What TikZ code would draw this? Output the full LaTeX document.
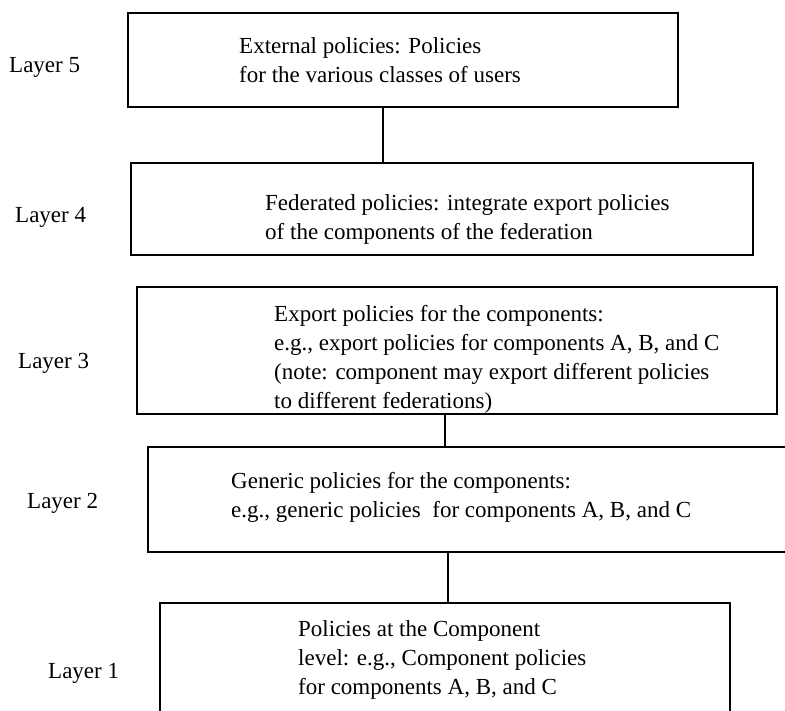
\documentclass[tikz,border=0pt]{standalone}
\usepackage{fontspec}
\setmainfont{Liberation Serif}
\begin{document}
\begin{tikzpicture}[x=1pt,y=-1pt,
  boxnode/.style={draw=black, line width=1.6pt, rectangle, inner sep=0pt},
  txt/.style={anchor=north west, inner sep=0pt, align=left, font=\fontsize{23}{29}\selectfont},
  lay/.style={anchor=west, inner sep=0pt, font=\fontsize{23}{29}\selectfont},
  conn/.style={line width=1.6pt}]
\useasboundingbox (0,0) rectangle (785,710);
\clip (0,0) rectangle (785,710);
% boxes
\node[boxnode, minimum width=550pt, minimum height=94pt] (b5) at (403,60) {};
\node[boxnode, minimum width=622pt, minimum height=92pt] (b4) at (442,209) {};
\node[boxnode, minimum width=640pt, minimum height=127pt] (b3) at (457,350.5) {};
\node[boxnode, minimum width=647pt, minimum height=105pt] (b2) at (471.5,499.5) {};
\node[boxnode, minimum width=570pt, minimum height=117pt] (b1) at (445,661.5) {};
% texts
\node[txt] (t5) at (239,37) {External policies: Policies\\for the various classes of users};
\node[txt] (t4) at (265,194) {Federated policies: integrate export policies\\of the components of the federation};
\node[txt] (t3) at (274,305) {Export policies for the components:\\e.g., export policies for components A, B, and C\\(note: component may export different policies\\to different federations)};
\node[txt] (t2) at (231,472) {Generic policies for the components:\\e.g., generic policies\ \ for components A, B, and C};
\node[txt] (t1) at (298,620) {Policies at the Component\\level: e.g., Component policies\\for components A, B, and C};
% layer labels
\node[lay] (l5) at (9,67) {Layer 5};
\node[lay] (l4) at (15,217) {Layer 4};
\node[lay] (l3) at (18,363) {Layer 3};
\node[lay] (l2) at (27,503) {Layer 2};
\node[lay] (l1) at (48,673) {Layer 1};
% connectors
\coordinate (x54) at (383,0);
\coordinate (x32) at (445,0);
\coordinate (x21) at (448,0);
\draw[conn] (b5.south -| x54) -- (b4.north -| x54);
\draw[conn] (b3.south -| x32) -- (b2.north -| x32);
\draw[conn] (b2.south -| x21) -- (b1.north -| x21);
\end{tikzpicture}
\end{document}
